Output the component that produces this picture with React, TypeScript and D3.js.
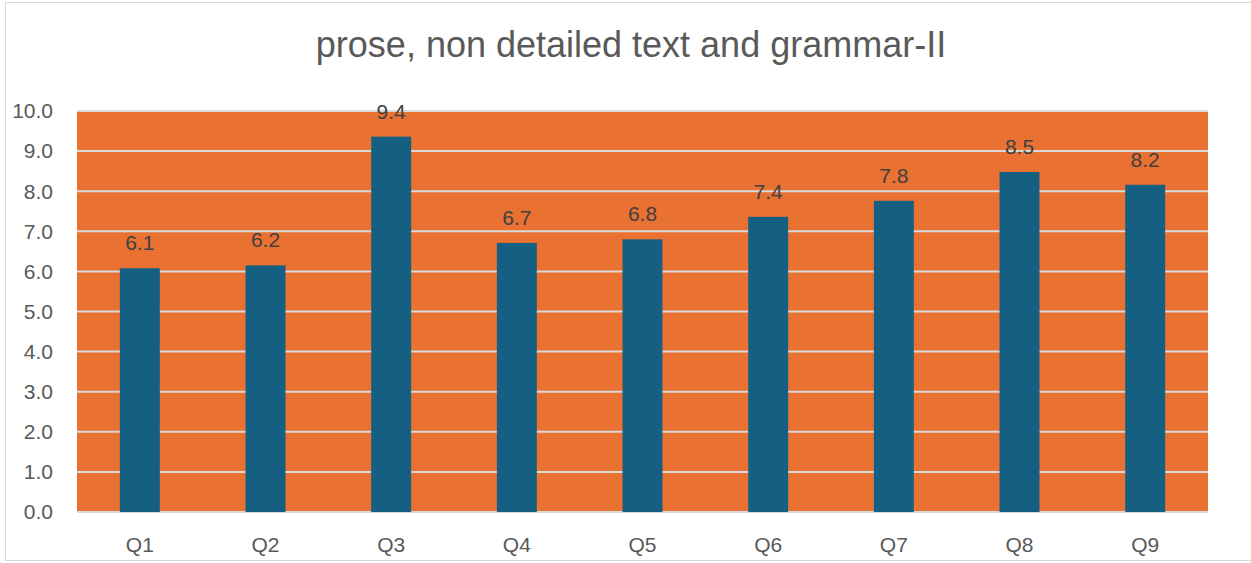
import * as React from 'react';
import * as d3 from 'd3';

const categories = ['Q1', 'Q2', 'Q3', 'Q4', 'Q5', 'Q6', 'Q7', 'Q8', 'Q9'];
const scores = [6.08, 6.15, 9.36, 6.71, 6.8, 7.36, 7.76, 8.48, 8.16];
const yTicks = [0, 1, 2, 3, 4, 5, 6, 7, 8, 9, 10];
const title = 'prose, non detailed text and grammar-II';

const W = 1251;
const H = 563;
const margin = { top: 111, right: 43, bottom: 50, left: 77 };
const textColor = '#595959';
const font = '"Liberation Sans", Arial, sans-serif';

export default function App() {
  const ref = React.useRef<SVGSVGElement>(null);

  React.useEffect(() => {
    const svg = d3.select(ref.current);
    svg.selectAll('*').remove();

    const width = W - margin.left - margin.right;
    const height = H - margin.top - margin.bottom - 1;

    // chart frame
    svg.append('rect')
      .attr('x', 5.5).attr('y', 2.5)
      .attr('width', W).attr('height', 558)
      .attr('fill', '#fff')
      .attr('stroke', '#d9d9d9');

    svg.append('text')
      .attr('x', 631).attr('y', 57)
      .attr('text-anchor', 'middle')
      .attr('font-family', font)
      .attr('font-size', 36)
      .attr('fill', textColor)
      .text(title);

    const g = svg.append('g')
      .attr('transform', `translate(${margin.left}, ${margin.top})`);

    const x = d3.scaleBand()
      .domain(categories)
      .range([0, width])
      .paddingInner(0.682)
      .paddingOuter(0.341);

    const y = d3.scaleLinear()
      .domain([0, 10])
      .range([height, 0]);

    g.append('rect')
      .attr('width', width).attr('height', height)
      .attr('fill', '#e97132');

    g.selectAll('.grid')
      .data(yTicks)
      .enter()
      .append('line')
      .attr('class', 'grid')
      .attr('x1', 0).attr('x2', width)
      .attr('y1', (d) => y(d)).attr('y2', (d) => y(d))
      .attr('stroke', '#d9d9d9')
      .attr('stroke-width', 2);

    g.selectAll('.ylab')
      .data(yTicks)
      .enter()
      .append('text')
      .attr('class', 'ylab')
      .attr('x', -24)
      .attr('y', (d) => y(d))
      .attr('dy', '0.35em')
      .attr('text-anchor', 'end')
      .attr('font-family', font)
      .attr('font-size', 21)
      .attr('fill', textColor)
      .text((d) => d3.format('.1f')(d));

    g.selectAll('.bar')
      .data(scores)
      .enter()
      .append('rect')
      .attr('class', 'bar')
      .attr('x', (d, i) => x(categories[i]))
      .attr('y', (d) => y(d))
      .attr('width', x.bandwidth())
      .attr('height', (d) => height - y(d))
      .attr('fill', '#156082');

    g.selectAll('.val')
      .data(scores)
      .enter()
      .append('text')
      .attr('class', 'val')
      .attr('x', (d, i) => x(categories[i]) + x.bandwidth() / 2)
      .attr('y', (d) => y(d) - 18)
      .attr('text-anchor', 'middle')
      .attr('font-family', font)
      .attr('font-size', 21)
      .attr('fill', '#404040')
      .text((d) => d3.format('.1f')(d));

    g.selectAll('.xlab')
      .data(categories)
      .enter()
      .append('text')
      .attr('class', 'xlab')
      .attr('x', (d) => x(d) + x.bandwidth() / 2)
      .attr('y', height + 40)
      .attr('text-anchor', 'middle')
      .attr('font-family', font)
      .attr('font-size', 21)
      .attr('fill', textColor)
      .text((d) => d);
  }, []);

  return (
    <svg
      ref={ref}
      width={W}
      height={H}
      style={{ position: 'absolute', left: 0, top: 0 }}
    />
  );
}
